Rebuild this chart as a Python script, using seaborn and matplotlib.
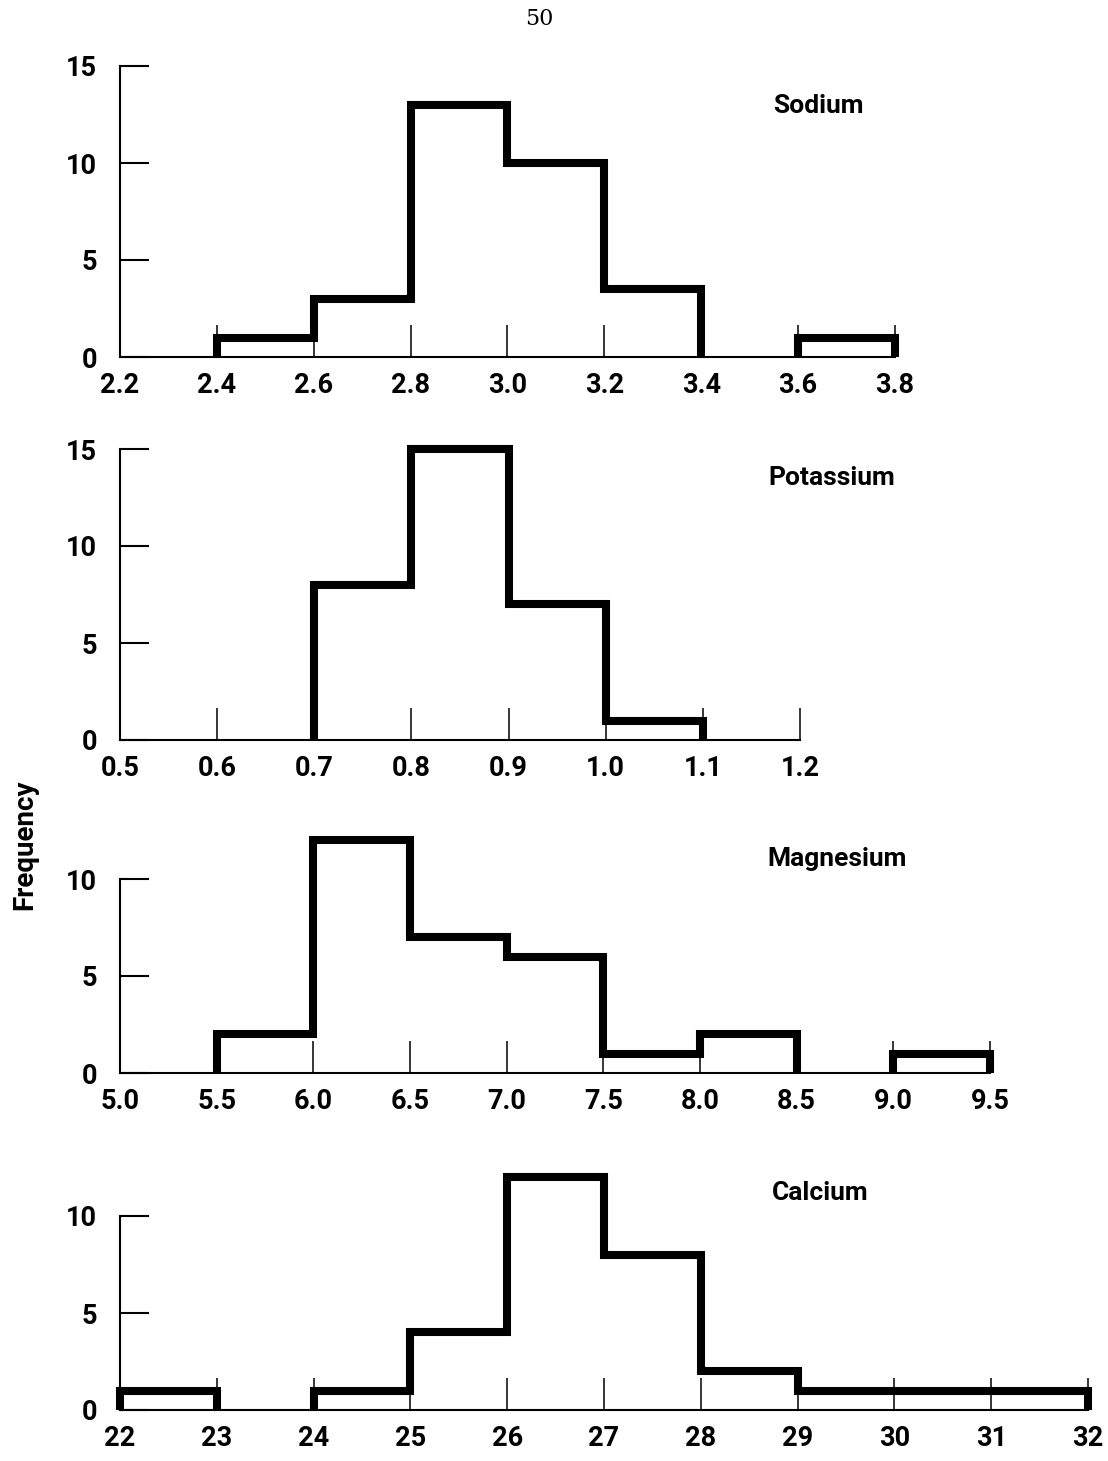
import numpy as np
import pandas as pd
import matplotlib
matplotlib.use("Agg")
import matplotlib.pyplot as plt
import seaborn as sns

# Class boundaries and frequencies for each element
sodium_edges = [2.2, 2.4, 2.6, 2.8, 3.0, 3.2, 3.4, 3.6, 3.8]
sodium_counts = [0, 1, 3, 13, 10, 3.5, 0, 1]

potassium_edges = [0.5, 0.6, 0.7, 0.8, 0.9, 1.0, 1.1, 1.2]
potassium_counts = [0, 0, 8, 15, 7, 1, 0]

magnesium_edges = [5.0, 5.5, 6.0, 6.5, 7.0, 7.5, 8.0, 8.5, 9.0, 9.5]
magnesium_counts = [0, 2, 12, 7, 6, 1, 2, 0, 1]

calcium_edges = [22, 23, 24, 25, 26, 27, 28, 29, 30, 31, 32]
calcium_counts = [1, 0, 1, 4, 12, 8, 2, 1, 1, 1]

sodium_ticklabels = ["2.2", "2.4", "2.6", "2.8", "3.0", "3.2", "3.4", "3.6", "3.8"]
potassium_ticklabels = ["0.5", "0.6", "0.7", "0.8", "0.9", "1.0", "1.1", "1.2"]
magnesium_ticklabels = ["5.0", "5.5", "6.0", "6.5", "7.0", "7.5", "8.0", "8.5", "9.0", "9.5"]
calcium_ticklabels = ["22", "23", "24", "25", "26", "27", "28", "29", "30", "31", "32"]

sns.set_theme(style="ticks")
plt.rcParams["font.family"] = ["Roboto", "DejaVu Sans"]
plt.rcParams["font.weight"] = "bold"

W, H = 1108, 1461
fig = plt.figure(figsize=(W / 100, H / 100), dpi=100)
fig.patch.set_facecolor("white")

PX_PER_UNIT = 19.4  # vertical pixels per frequency unit


def outline(edges, counts):
    """Step outline of each run of non-empty classes, closed down to zero."""
    rows = []
    run = 0
    i = 0
    n = len(counts)
    while i < n:
        if counts[i] == 0:
            i += 1
            continue
        j = i
        rows.append((edges[i], 0, run))
        while j < n and counts[j] != 0:
            rows.append((edges[j], counts[j], run))
            rows.append((edges[j + 1], counts[j], run))
            j += 1
        rows.append((edges[j], 0, run))
        run += 1
        i = j
    df = pd.DataFrame(rows, columns=["x", "y", "run"])
    df["order"] = np.arange(len(df))
    return df


def panel(edges, counts, labels, name, x_right, y_zero, y_top, title_xy):
    left = 120 / W
    width = (x_right - 120) / W
    height = 15 * PX_PER_UNIT / H
    bottom = 1 - y_zero / H
    ax = fig.add_axes([left, bottom, width, height])
    df = outline(edges, counts)
    sns.lineplot(data=df, x="x", y="y", units="run", estimator=None, sort=False,
                 color="black", linewidth=5.8, legend=False, ax=ax,
                 solid_joinstyle="miter", solid_capstyle="butt", clip_on=False)
    ax.set_xlim(edges[0], edges[-1])
    ax.set_ylim(0, 15)
    ax.set_xticks(edges)
    ax.set_xticklabels(labels)
    yt = [0, 5, 10, 15] if y_top == 15 else [0, 5, 10]
    ax.set_yticks(yt)
    ax.set_yticklabels([str(v) for v in yt])
    ax.set_xlabel("")
    ax.set_ylabel("")
    for s in ["top", "right"]:
        ax.spines[s].set_visible(False)
    ax.spines["left"].set_bounds(0, y_top)
    ax.spines["left"].set_linewidth(1.5)
    ax.spines["bottom"].set_linewidth(1.5)
    ax.spines["left"].set_color("black")
    ax.spines["bottom"].set_color("black")
    ax.set_facecolor("none")
    ax.tick_params(axis="x", direction="in", length=23, width=1.1, color="black",
                   pad=11, labelsize=19.5, labelcolor="black")
    ax.tick_params(axis="y", direction="in", length=21, width=1.5, color="black",
                   pad=16.5, labelsize=19.5, labelcolor="black")
    for t in ax.get_xticklabels() + ax.get_yticklabels():
        t.set_fontweight("bold")
    fig.text(title_xy[0] / W, 1 - title_xy[1] / H, name, ha="left", va="baseline",
             fontsize=19, fontweight="bold", color="black")
    return ax


panel(sodium_edges, sodium_counts, sodium_ticklabels, "Sodium", 895, 357, 15, (773, 113))
panel(potassium_edges, potassium_counts, potassium_ticklabels, "Potassium", 800, 740, 15, (768, 485))
panel(magnesium_edges, magnesium_counts, magnesium_ticklabels, "Magnesium", 990, 1073, 10, (767, 866))
panel(calcium_edges, calcium_counts, calcium_ticklabels, "Calcium", 1088, 1410, 10, (772, 1200))

fig.text(25 / W, 1 - 845 / H, "Frequency", rotation=90, ha="center", va="center",
         fontsize=20, fontweight="bold", color="black")
fig.text(539 / W, 1 - 19 / H, "50", ha="center", va="center",
         fontsize=16, fontweight="normal", family="DejaVu Serif", color="black")

fig.savefig("out.png", dpi=100, facecolor="white")
